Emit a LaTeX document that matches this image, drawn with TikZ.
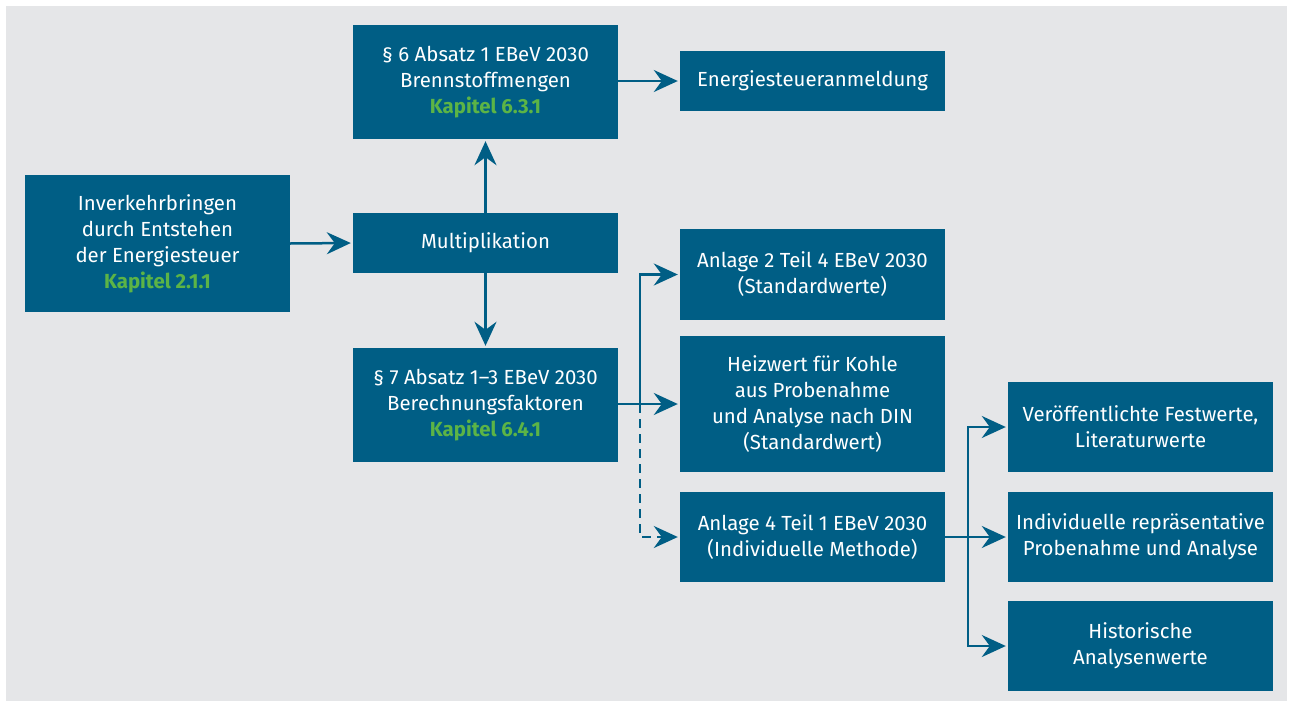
\documentclass[tikz,border=0pt]{standalone}
\usepackage{fontspec}
\setmainfont{Fira Sans}
\usetikzlibrary{arrows.meta}
\definecolor{boxblue}{RGB}{0,94,133}
\definecolor{kapgreen}{RGB}{92,180,70}
\definecolor{bggray}{RGB}{229,230,232}
\tikzset{
  box/.style={fill=boxblue, text=white, minimum width=265pt, inner sep=0pt,
    align=center, font=\fontsize{20.4}{26}\selectfont},
  conn/.style={draw=boxblue, line width=2.5pt,
    -{Stealth[length=24pt,width=22pt,inset=8pt]}, shorten >=2pt},
  dconn/.style={conn, dash pattern=on 9pt off 6pt}
}
\newcommand{\kap}[1]{{\color{kapgreen}\bfseries #1}}
\begin{document}
\begin{tikzpicture}[x=1pt,y=-1pt]
\fill[white] (0,0) rectangle (1290,707);
\useasboundingbox (0,0) rectangle (1290,707);
\fill[bggray] (6,6) rectangle (1287,701);

\node[box, minimum height=137pt] (A) at (157.5,243.5)
  {Inverkehrbringen\\durch Entstehen\\der Energiesteuer\\\kap{Kapitel 2.1.1}};
\node[box, minimum height=114pt] (B) at (485.5,82)
  {§ 6 Absatz 1 EBeV 2030\\Brennstoffmengen\\\kap{Kapitel 6.3.1}};
\node[box, minimum height=60pt] (M) at (485.5,243) {Multiplikation};
\node[box, minimum height=114pt] (S) at (485.5,405)
  {§ 7 Absatz 1–3 EBeV 2030\\Berechnungsfaktoren\\\kap{Kapitel 6.4.1}};
\node[box, minimum height=60pt] (E) at (812.5,81) {Energiesteueranmeldung};
\node[box, minimum height=91pt] (A2) at (812.5,274.5)
  {Anlage 2 Teil 4 EBeV 2030\\(Standardwerte)};
\node[box, minimum height=136pt] (H) at (812.5,404)
  {Heizwert für Kohle\\aus Probenahme\\und Analyse nach DIN\\(Standardwert)};
\node[box, minimum height=90pt] (A4) at (812.5,537)
  {Anlage 4 Teil 1 EBeV 2030\\(Individuelle Methode)};
\node[box, minimum height=90pt] (V) at (1140.5,427)
  {Veröffentlichte Festwerte,\\Literaturwerte};
\node[box, minimum height=90pt] (I) at (1140.5,537)
  {Individuelle repräsentative\\Probenahme und Analyse};
\node[box, minimum height=90pt] (Hi) at (1140.5,646)
  {Historische\\Analysenwerte};

\coordinate (J1) at (640,404);
\coordinate (J2) at (968,537);

\draw[conn] (A.east) -- (M.west);
\draw[conn] (M.north) -- (B.south);
\draw[conn] (M.south) -- (S.north);
\draw[conn] (B.east |- E.west) -- (E.west);
\draw[conn] (S.east |- H.west) -- (H.west);
\draw[conn] (J1) |- (A2.west);
\draw[dconn] (J1) |- (A4.west);
\draw[conn] (A4.east) -- (I.west);
\draw[conn] (J2) |- (V.west);
\draw[conn] (J2) |- (Hi.west);
\end{tikzpicture}
\end{document}
